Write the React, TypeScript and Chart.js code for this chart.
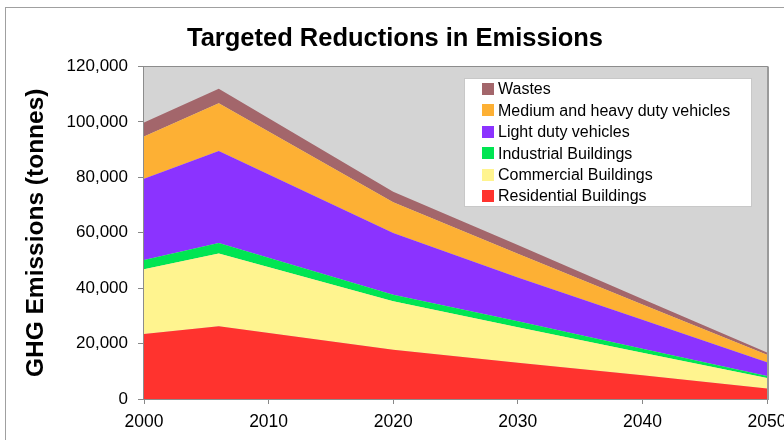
import React, { useEffect, useRef } from "react";
import { Chart, registerables } from "chart.js";

Chart.register(...registerables);

// ---- Data ----
const years = [2000, 2006, 2020, 2030, 2040, 2050];

const residential = [23500, 26300, 17800, 13100, 8600, 3800];
const commercial = [23300, 26200, 17500, 12800, 8100, 3800];
const industrial = [3400, 3800, 2300, 2200, 1400, 700];
const lightDuty = [29300, 33200, 22300, 15800, 10500, 5000];
const mediumHeavy = [15300, 17300, 11100, 8500, 5500, 2700];
const wastes = [5000, 5200, 3800, 3200, 2000, 800];

const seriesNames = [
  "Residential Buildings",
  "Commercial Buildings",
  "Industrial Buildings",
  "Light duty vehicles",
  "Medium and heavy duty vehicles",
  "Wastes",
];
const seriesValues = [residential, commercial, industrial, lightDuty, mediumHeavy, wastes];
const seriesColors = ["#ff332e", "#fff48f", "#00e552", "#8b33ff", "#fdb034", "#a3666b"];

const xMin = 2000;
const xMax = 2050;
const xStep = 10;
const yMin = 0;
const yMax = 120000;
const yStep = 20000;

const titleText = "Targeted Reductions in Emissions";
const yAxisTitle = "GHG Emissions (tonnes)";

const FONT = '"Liberation Sans", Arial, sans-serif';

const framePlugin = {
  id: "frameAndPlot",
  afterLayout(chart: any) {
    // shift the title block so that it is centred where the reference puts it
    if (chart.titleBlock) {
      chart.titleBlock.left = 6;
      chart.titleBlock.right = chart.width;
    }
  },
  beforeDraw(chart: any) {
    const { ctx, chartArea } = chart;
    ctx.save();
    ctx.strokeStyle = "#a0a0a0";
    ctx.lineWidth = 1;
    ctx.strokeRect(5.5, 7.5, 1000, 1000);
    ctx.fillStyle = "#d4d4d4";
    ctx.fillRect(chartArea.left, chartArea.top, chartArea.right - chartArea.left, chartArea.bottom - chartArea.top);
    ctx.restore();
  },
  afterDatasetsDraw(chart: any) {
    const { ctx, chartArea } = chart;
    ctx.save();
    ctx.strokeStyle = "#8c8c8c";
    ctx.lineWidth = 1;
    ctx.strokeRect(
      Math.round(chartArea.left) - 0.5,
      Math.round(chartArea.top) - 0.5,
      Math.round(chartArea.right - chartArea.left) + 1,
      Math.round(chartArea.bottom - chartArea.top) + 1
    );
    ctx.strokeStyle = "#9a9a9a";
    ctx.lineWidth = 2;
    ctx.beginPath();
    ctx.moveTo(Math.round(chartArea.right) + 1, chartArea.top);
    ctx.lineTo(Math.round(chartArea.right) + 1, chartArea.bottom + 1);
    ctx.stroke();
    ctx.restore();
  },
};

const boxLegendPlugin = {
  id: "boxLegend",
  afterDraw(chart: any) {
    const { ctx, chartArea } = chart;
    const x0 = Math.round(chartArea.left) + 320;
    const y0 = Math.round(chartArea.top) + 11;
    const w = 288;
    const h = 129;
    ctx.save();
    ctx.fillStyle = "#ffffff";
    ctx.fillRect(x0, y0, w, h);
    ctx.strokeStyle = "#c8c8c8";
    ctx.lineWidth = 1;
    ctx.strokeRect(x0 + 0.5, y0 + 0.5, w - 1, h - 1);
    const items = chart.data.datasets.slice().reverse();
    ctx.font = `16px ${FONT}`;
    ctx.textBaseline = "middle";
    ctx.textAlign = "left";
    items.forEach((ds: any, i: number) => {
      const cy = y0 + 11 + i * 21.4;
      ctx.fillStyle = ds.backgroundColor;
      ctx.fillRect(x0 + 18, Math.round(cy - 6), 12, 12);
      ctx.fillStyle = "#000000";
      ctx.fillText(ds.label, x0 + 34, cy + 1);
    });
    ctx.restore();
  },
};

export default function App() {
  const canvasRef = useRef<HTMLCanvasElement | null>(null);

  useEffect(() => {
    if (!canvasRef.current) return;
    const datasets = seriesNames.map((name, i) => ({
      label: name,
      data: years.map((yr, j) => ({ x: yr, y: seriesValues[i][j] })),
      backgroundColor: seriesColors[i],
      borderColor: seriesColors[i],
      borderWidth: 0,
      pointRadius: 0,
      pointHoverRadius: 0,
      tension: 0,
      fill: i === 0 ? "origin" : "-1",
    }));

    const chart = new Chart(canvasRef.current, {
      type: "line",
      data: { datasets },
      options: {
        responsive: false,
        animation: false,
        events: [],
        layout: { padding: { left: 0, right: 17, top: 0, bottom: 0 }, autoPadding: false },
        plugins: {
          legend: { display: false },
          tooltip: { enabled: false },
          title: {
            display: true,
            text: titleText,
            color: "#000000",
            font: { family: FONT, size: 25.5, weight: "bold", lineHeight: 1.2 },
            padding: { top: 24, bottom: 12 },
          },
        },
        scales: {
          x: {
            type: "linear",
            min: xMin,
            max: xMax,
            ticks: {
              stepSize: xStep,
              autoSkip: false,
              maxRotation: 0,
              color: "#000000",
              padding: 8,
              font: { family: FONT, size: 17.5 },
              callback: (v: any) => String(v),
            },
            grid: { drawOnChartArea: false, tickLength: 5, tickColor: "#888888" },
            border: { display: false },
            afterFit: (s: any) => {
              s.height = 41;
              s.paddingLeft = 0;
              s.paddingRight = 0;
            },
          },
          y: {
            stacked: true,
            min: yMin,
            max: yMax,
            ticks: {
              stepSize: yStep,
              color: "#000000",
              padding: 10,
              font: { family: FONT, size: 17 },
              callback: (v: any) => Number(v).toLocaleString("en-US"),
            },
            grid: { drawOnChartArea: false, tickLength: 6, tickColor: "#888888" },
            border: { display: false },
            title: {
              display: true,
              text: yAxisTitle,
              color: "#000000",
              font: { family: FONT, size: 24.5, weight: "bold" },
              padding: { top: 22, bottom: 0 },
            },
            afterFit: (s: any) => {
              s.width = 144;
              s.paddingTop = 0;
              s.paddingBottom = 0;
            },
          },
        },
      },
      plugins: [framePlugin, boxLegendPlugin],
    } as any);

    return () => chart.destroy();
  }, []);

  return (
    <div style={{ position: "fixed", left: 0, top: 0, width: 784, height: 440, background: "#ffffff" }}>
      <canvas ref={canvasRef} width={784} height={440} style={{ display: "block" }} />
    </div>
  );
}
